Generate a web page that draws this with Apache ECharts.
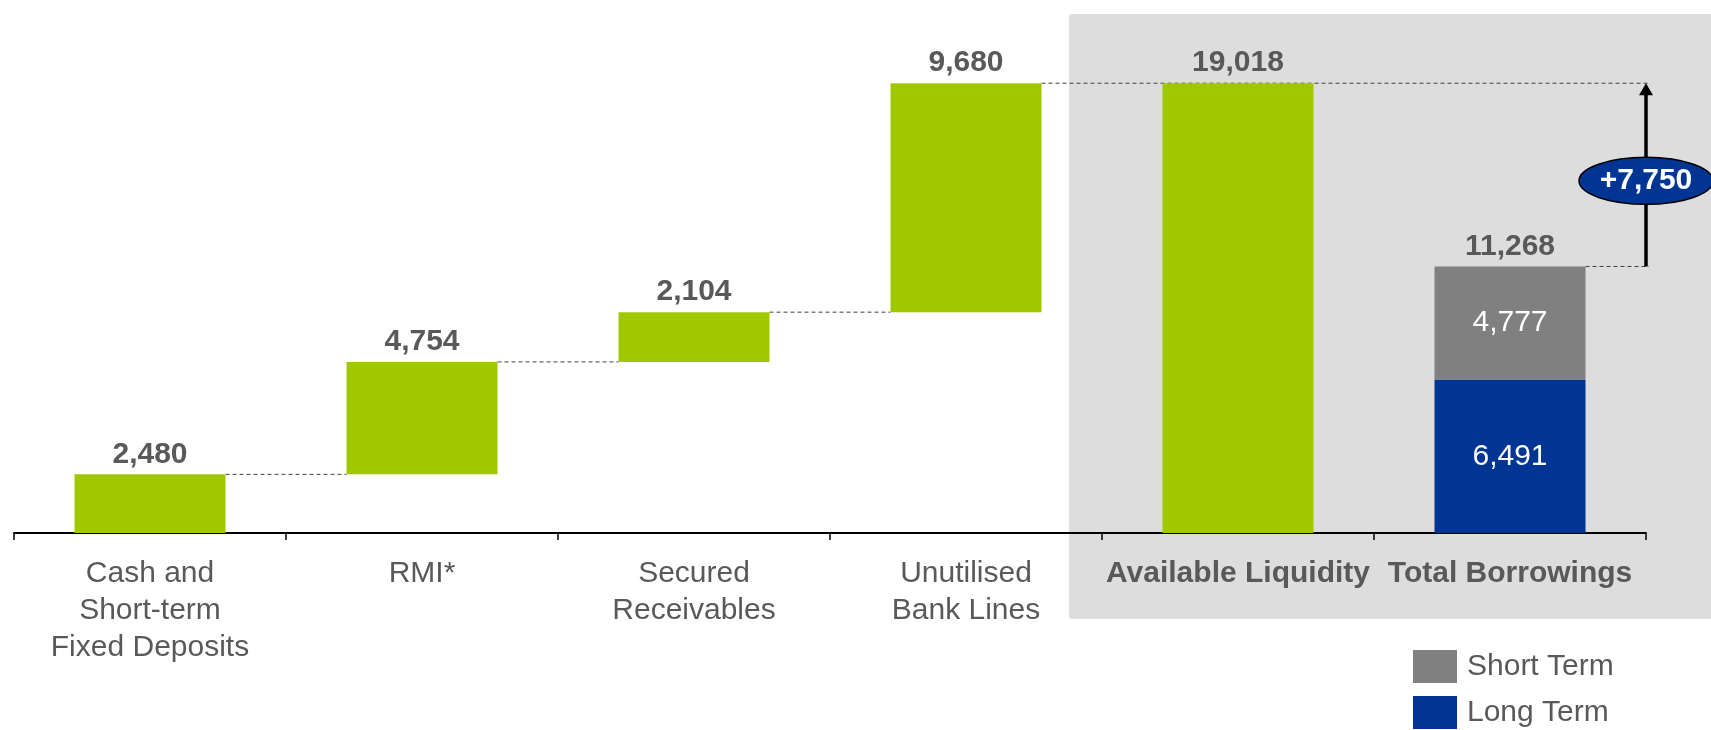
<!DOCTYPE html>
<html>
<head>
<meta charset="utf-8">
<script src="https://cdn.jsdelivr.net/npm/echarts@6/dist/echarts.min.js"></script>
<style>
  html, body { margin: 0; padding: 0; background: #ffffff; }
  #chart { width: 1711px; height: 730px; }
</style>
</head>
<body>
<div id="chart"></div>
<script>
// ---- data ----
const categories = ['Cash and\nShort-term\nFixed Deposits', 'RMI*', 'Secured\nReceivables', 'Unutilised\nBank Lines', 'Available Liquidity', 'Total Borrowings'];
const increments = [2480, 4754, 2104, 9680];
const availableLiquidity = 19018;
const longTerm = 6491;
const shortTerm = 4777;
const totalBorrowings = 11268;
const legendNames = ['Short Term', 'Long Term'];

// ---- derived series ----
const bases = [];
let run = 0;
increments.forEach(v => { bases.push(run); run += v; });
const baseData = bases.concat(['-', '-']);
const greenData = increments.concat([availableLiquidity, '-']);
const longData = ['-', '-', '-', '-', '-', longTerm];
const shortData = ['-', '-', '-', '-', '-', shortTerm];
const tops = increments.map((v, i) => bases[i] + v);
const connectorData = [[0, tops[0], 1], [1, tops[1], 2], [2, tops[2], 3]];
const toArrowData = [[3, tops[3]], [5, totalBorrowings]];
const arrowData = [[5, totalBorrowings, availableLiquidity]];

// ---- style ----
const FONT = "'Liberation Sans', Arial, Helvetica, sans-serif";
const TEXT = '#595959';
const GREEN = '#A0C800';
const BLUE = '#003594';
const GREY = '#808080';
const BAR_W = 151;
const fmt = v => Number(v).toLocaleString('en-US');

const chart = echarts.init(document.getElementById('chart'), null, { renderer: 'canvas' });

const option = {
  animation: false,
  backgroundColor: '#ffffff',
  textStyle: { fontFamily: FONT },
  graphic: [{
    type: 'rect',
    z: -10,
    shape: { x: 1069, y: 14, width: 700, height: 605, r: 3 },
    style: { fill: '#DDDDDD' }
  }],
  grid: { left: 14, right: 65, top: 60, bottom: 197, containLabel: false },
  legend: {
    data: legendNames,
    orient: 'vertical',
    left: 1413,
    top: 650,
    icon: 'rect',
    itemWidth: 44,
    itemHeight: 33,
    itemGap: 13,
    padding: 0,
    textStyle: { fontFamily: FONT, fontSize: 30, color: TEXT, padding: [0, 0, 0, 5] },
    selectedMode: false
  },
  xAxis: {
    type: 'category',
    data: categories,
    boundaryGap: true,
    axisLine: { lineStyle: { color: '#000', width: 2 } },
    axisTick: { show: true, length: 7, interval: 0, lineStyle: { color: '#000', width: 1.5 } },
    axisLabel: {
      interval: 0,
      margin: 22,
      color: TEXT,
      fontFamily: FONT,
      fontSize: 30,
      lineHeight: 37,
      formatter: (v, i) => i >= 4 ? '{b|' + v + '}' : v,
      rich: {
        b: { fontWeight: 'bold', fontSize: 30, lineHeight: 37, color: TEXT, fontFamily: FONT }
      }
    }
  },
  yAxis: { type: 'value', min: 0, max: 20000, show: false },
  series: [
    {
      name: 'connectors',
      type: 'custom',
      z: 1,
      clip: false,
      silent: true,
      data: connectorData,
      renderItem: (params, api) => {
        const a = api.coord([api.value(0), api.value(1)]);
        const b = api.coord([api.value(2), api.value(1)]);
        return {
          type: 'line',
          shape: { x1: a[0] + BAR_W / 2, y1: a[1], x2: b[0] - BAR_W / 2, y2: b[1] },
          style: { stroke: '#404040', lineWidth: 1, lineDash: [4, 3] }
        };
      }
    },
    {
      name: 'toArrow',
      type: 'custom',
      z: 1,
      clip: false,
      silent: true,
      data: toArrowData,
      renderItem: (params, api) => {
        const a = api.coord([api.value(0), api.value(1)]);
        const last = api.coord([categories.length - 1, api.value(1)]);
        const band = api.size([1, 0])[0];
        return {
          type: 'line',
          shape: { x1: a[0] + BAR_W / 2, y1: a[1], x2: last[0] + band / 2 + 3, y2: a[1] },
          style: { stroke: '#404040', lineWidth: 1, lineDash: [4, 3] }
        };
      }
    },
    {
      name: 'base', type: 'bar', stack: 'w', barWidth: BAR_W, z: 2, silent: true,
      itemStyle: { color: 'transparent' }, data: baseData
    },
    {
      name: 'Liquidity', type: 'bar', stack: 'w', barWidth: BAR_W, z: 2,
      itemStyle: { color: GREEN },
      label: {
        show: true, position: 'top', distance: 5,
        fontFamily: FONT, fontSize: 30, fontWeight: 'bold', color: TEXT,
        formatter: p => fmt(p.value)
      },
      data: greenData
    },
    {
      name: 'Long Term', type: 'bar', stack: 'w', barWidth: BAR_W, z: 2,
      itemStyle: { color: BLUE },
      label: {
        show: true, position: 'inside',
        fontFamily: FONT, fontSize: 30, color: '#ffffff',
        formatter: p => fmt(p.value)
      },
      data: longData
    },
    {
      name: 'Short Term', type: 'bar', stack: 'w', barWidth: BAR_W, z: 2,
      itemStyle: { color: GREY },
      label: {
        show: true, position: 'inside',
        fontFamily: FONT, fontSize: 30, color: '#ffffff',
        formatter: p => fmt(p.value)
      },
      markPoint: {
        symbol: 'rect', symbolSize: 0, silent: true,
        label: {
          show: true, position: 'top', distance: 5,
          fontFamily: FONT, fontSize: 30, fontWeight: 'bold', color: TEXT,
          formatter: p => fmt(p.value)
        },
        data: [{ coord: [5, totalBorrowings], value: totalBorrowings }]
      },
      data: shortData
    },
    {
      name: 'arrow',
      type: 'custom',
      z: 5,
      clip: false,
      silent: true,
      data: arrowData,
      renderItem: (params, api) => {
        const band = api.size([1, 0])[0];
        const lo = api.coord([api.value(0), api.value(1)]);
        const hi = api.coord([api.value(0), api.value(2)]);
        const x = lo[0] + band / 2;
        const headH = 12, headW = 7;
        const midY = (lo[1] + hi[1]) / 2 + 6;
        const diff = api.value(2) - api.value(1);
        return {
          type: 'group',
          children: [
            { type: 'line', shape: { x1: x, y1: lo[1], x2: x, y2: hi[1] + headH - 1 },
              style: { stroke: '#000', lineWidth: 3.5 } },
            { type: 'polygon', shape: { points: [[x, hi[1]], [x - headW, hi[1] + headH], [x + headW, hi[1] + headH]] },
              style: { fill: '#000' } },
            { type: 'ellipse', shape: { cx: x, cy: midY, rx: 67, ry: 23.5 },
              style: { fill: BLUE, stroke: '#000', lineWidth: 1.5 } },
            { type: 'text', x: x, y: midY,
              style: { text: '+' + fmt(diff), fill: '#ffffff', fontFamily: FONT, fontSize: 30, fontWeight: 'bold',
                       align: 'center', verticalAlign: 'middle' } }
          ]
        };
      }
    }
  ]
};

chart.setOption(option);
</script>
</body>
</html>
